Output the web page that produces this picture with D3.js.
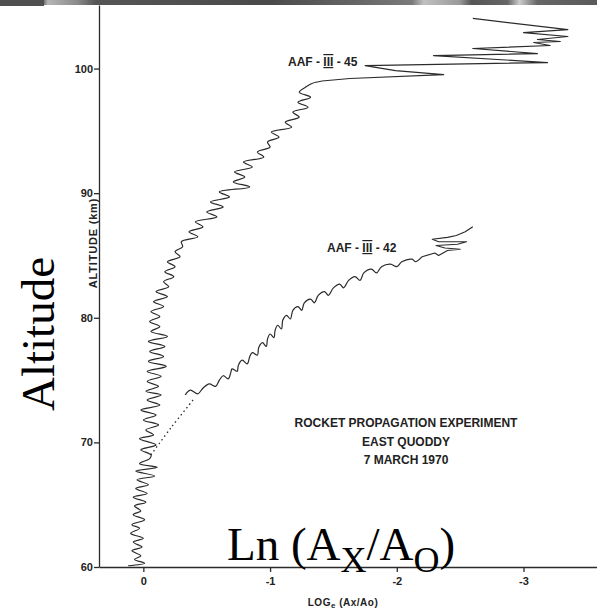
<!DOCTYPE html>
<html>
<head>
<meta charset="utf-8">
<script src="https://cdn.jsdelivr.net/npm/d3@7"></script>
<style>
  body { margin: 0; background: #fff; }
  text { font-family: "Liberation Sans", Arial, sans-serif; }
</style>
</head>
<body>
<div id="chart"></div>
<script>
// altitude ticks (km) and log ratio ticks
var altTicks = [60, 70, 80, 90, 100];
var logTicks = [0, -1, -2, -3];

// AAF-III-45 trace, [altitude km, ln(Ax/Ao)]
var curve45 = [
  [60.1, 0.12], [60.3, -0.01], [60.6, 0.07], [60.9, 0.02], [61.3, 0.09], [61.6, 0.01],
  [62.0, 0.08], [62.3, 0.00], [62.7, 0.10], [63.1, 0.03], [63.4, 0.09], [63.8, -0.01],
  [64.2, 0.08], [64.5, 0.02], [64.9, 0.07], [65.2, -0.02], [65.6, 0.08], [65.9, -0.03],
  [66.3, 0.06], [66.6, -0.04], [67.0, 0.05], [67.3, -0.09], [67.7, 0.06], [68.0, -0.11],
  [68.3, 0.03], [68.7, -0.05], [69.0, -0.06], [69.4, 0.02], [69.8, -0.10], [70.3, 0.03],
  [70.6, -0.08], [71.0, -0.02], [71.4, -0.12], [71.8, 0.00], [72.2, -0.10], [72.6, 0.02],
  [73.0, -0.13], [73.4, -0.03], [73.8, -0.14], [74.1, -0.02], [74.5, -0.12], [74.9, -0.03],
  [75.3, -0.14], [75.7, -0.03], [76.1, -0.18], [76.5, -0.04], [76.9, -0.16], [77.3, -0.05],
  [77.7, -0.17], [78.1, -0.04], [78.5, -0.19], [78.9, -0.06], [79.3, -0.13], [79.7, -0.05],
  [80.1, -0.13], [80.5, -0.06], [80.9, -0.16], [81.3, -0.08], [81.7, -0.19], [82.1, -0.10],
  [82.5, -0.20], [82.9, -0.16], [83.3, -0.24], [83.7, -0.17], [84.1, -0.25], [84.5, -0.19],
  [84.9, -0.29], [85.3, -0.25], [85.7, -0.31], [86.1, -0.30], [86.5, -0.43], [86.9, -0.36],
  [87.3, -0.47], [87.7, -0.41], [88.1, -0.58], [88.5, -0.50], [88.9, -0.63], [89.3, -0.53],
  [89.7, -0.68], [90.1, -0.60], [90.5, -0.84], [90.9, -0.71], [91.3, -0.80], [91.7, -0.72],
  [92.1, -0.86], [92.5, -0.79], [92.9, -0.95], [93.3, -0.90], [93.7, -1.00], [94.1, -0.98],
  [94.5, -1.07], [94.9, -1.01], [95.3, -1.17], [95.7, -1.12], [96.1, -1.23], [96.5, -1.18],
  [96.9, -1.30], [97.3, -1.22], [97.7, -1.32], [98.1, -1.23], [98.5, -1.28], [98.8, -1.33],
  [99.0, -1.41]
];

// spiky top of AAF-III-45 above 99 km, drawn with straight strokes
var spikes45 = [
  [99.0, -1.41], [99.2, -1.63], [99.52, -2.37], [99.84, -1.99], [100.24, -1.75], [100.48, -3.19],
  [101.04, -2.29], [101.2, -3.11], [101.61, -2.60], [101.85, -3.21], [102.09, -3.08], [102.17, -3.29],
  [102.33, -3.11], [102.57, -3.35], [102.89, -3.00], [103.13, -3.35], [104.02, -2.60]
];

// dotted link between the two traces
var link42 = [[69.0, -0.06], [71.2, -0.22], [73.5, -0.40]];

// AAF-III-42 trace
var curve42 = [
  [73.8, -0.33], [74.2, -0.37], [73.9, -0.43], [74.35, -0.47], [74.7, -0.52], [74.5, -0.57],
  [75.0, -0.60], [75.35, -0.63], [75.1, -0.67], [75.6, -0.69], [75.9, -0.70], [75.7, -0.74],
  [76.2, -0.75], [76.6, -0.78], [76.3, -0.82], [76.9, -0.84], [77.2, -0.86], [77.0, -0.90],
  [77.6, -0.91], [78.0, -0.94], [77.7, -0.97], [78.3, -0.98], [78.7, -1.00], [78.4, -1.03],
  [79.0, -1.04], [79.4, -1.06], [79.1, -1.09], [79.8, -1.10], [80.2, -1.13], [79.9, -1.16],
  [80.6, -1.18], [80.9, -1.22], [80.6, -1.25], [81.2, -1.27], [81.5, -1.32], [81.2, -1.35],
  [81.8, -1.38], [82.1, -1.43], [81.8, -1.46], [82.4, -1.50], [82.7, -1.55], [82.4, -1.58],
  [83.0, -1.62], [83.3, -1.67], [83.0, -1.71], [83.6, -1.74], [83.9, -1.80], [83.6, -1.84],
  [84.1, -1.88], [84.3, -1.95], [84.1, -2.00], [84.5, -2.04], [84.7, -2.12], [84.5, -2.15],
  [84.9, -2.20]
];

// sharper end of AAF-III-42
var tail42 = [
  [84.9, -2.20], [85.2, -2.30], [85.0, -2.33], [85.4, -2.40], [85.5, -2.50], [85.6, -2.38],
  [85.8, -2.31], [85.9, -2.48], [86.1, -2.55], [86.1, -2.33], [86.3, -2.28], [86.45, -2.40],
  [86.6, -2.47], [86.9, -2.54], [87.3, -2.60]
];

var width = 597, height = 611;

var svg = d3.select("#chart").append("svg")
    .attr("width", width)
    .attr("height", height);

// dark strip left at the top of the scan
var grad = svg.append("defs").append("linearGradient").attr("id", "scan");
[[0, "#555"], [0.07, "#4d4d4d"], [0.08, "#b5b5b5"], [0.13, "#8a8a8a"], [0.16, "#555"],
 [0.45, "#4a4a4a"], [0.6, "#666"], [0.69, "#7a7a7a"], [0.71, "#c0c0c0"], [0.77, "#999"],
 [0.79, "#555"], [0.85, "#666"], [0.87, "#ccc"], [0.9, "#666"], [1, "#5a5a5a"]]
  .forEach(function(s) {
      grad.append("stop").attr("offset", s[0]).attr("stop-color", s[1]);
  });
svg.append("rect").attr("width", width).attr("height", 5).attr("fill", "url(#scan)");
svg.append("rect").attr("width", 44).attr("height", 6).attr("fill", "#505050");

var x = d3.scaleLinear().domain([0.35, -3.58]).range([99, 597]);
var y = d3.scaleLinear().domain([60, 105.1]).range([567, 5]);

var smooth = d3.line()
    .x(function(d) { return x(d[1]); })
    .y(function(d) { return y(d[0]); })
    .curve(d3.curveCatmullRom.alpha(0.5));

var straight = d3.line()
    .x(function(d) { return x(d[1]); })
    .y(function(d) { return y(d[0]); });

var ink = "#2b2b2b";

// axes
var yAxis = svg.append("g")
    .attr("transform", "translate(" + x.range()[0] + ",0)")
    .call(d3.axisLeft(y).tickValues(altTicks).tickSize(5).tickSizeOuter(0).tickPadding(1));

var xAxis = svg.append("g")
    .attr("transform", "translate(0," + y(60) + ")")
    .call(d3.axisBottom(x).tickValues(logTicks).tickSize(5).tickSizeOuter(0).tickPadding(5)
        .tickFormat(function(d) { return d === 0 ? "0" : "-" + Math.abs(d); }));

[yAxis, xAxis].forEach(function(g) {
    g.selectAll("path, line").attr("stroke", ink).attr("stroke-width", 1.3);
    g.selectAll("text")
        .attr("fill", "#222")
        .style("font-size", "11px")
        .style("font-weight", "bold");
});

// traces
[[curve45, smooth], [spikes45, straight], [curve42, smooth], [tail42, straight]].forEach(function(p) {
    svg.append("path").datum(p[0])
        .attr("d", p[1]).attr("fill", "none")
        .attr("stroke", ink).attr("stroke-width", 1.2)
        .attr("stroke-linejoin", "round");
});

svg.append("path").datum(link42)
    .attr("d", smooth).attr("fill", "none")
    .attr("stroke", ink).attr("stroke-width", 1.3)
    .attr("stroke-dasharray", "1.5,3");

// labels on the traces, roman numeral drawn with bars like the lettering
function traceLabel(px, py, num) {
    var t = svg.append("text").attr("x", px).attr("y", py)
        .style("font-size", "12px").style("font-weight", "bold").attr("fill", "#222");
    t.append("tspan").text("AAF - ");
    t.append("tspan").style("text-decoration", "overline underline").text("III");
    t.append("tspan").text(" - " + num);
}
traceLabel(288, 66, "45");
traceLabel(327, 252, "42");

// experiment caption
var caption = ["ROCKET PROPAGATION EXPERIMENT", "EAST QUODDY", "7 MARCH 1970"];
svg.selectAll(".cap")
    .data(caption)
    .enter()
    .append("text")
    .attr("class", "cap")
    .attr("x", 406)
    .attr("y", function(d, i) { return 427 + i * 18.5; })
    .attr("text-anchor", "middle")
    .style("font-size", "12px")
    .style("font-weight", "bold")
    .attr("fill", "#222")
    .text(function(d) { return d; });

// small printed axis titles
svg.append("text")
    .attr("transform", "translate(97,243) rotate(-90)")
    .attr("text-anchor", "middle")
    .style("font-size", "11px").style("font-weight", "bold").attr("fill", "#222")
    .attr("letter-spacing", 0.8)
    .text("ALTITUDE (km)");

var xt = svg.append("text")
    .attr("x", 343).attr("y", 606)
    .attr("text-anchor", "middle")
    .style("font-size", "10px").style("font-weight", "bold").attr("fill", "#222")
    .attr("letter-spacing", 0.5);
xt.append("tspan").text("LOG");
xt.append("tspan").attr("dy", 2).style("font-size", "8px").text("e");
xt.append("tspan").attr("dy", -2).text(" (Ax/Ao)");

// big overlaid titles
svg.append("text")
    .attr("transform", "translate(54,334) rotate(-90)")
    .attr("text-anchor", "middle")
    .style("font-family", "'Liberation Serif', 'Times New Roman', serif")
    .style("font-size", "47px")
    .attr("fill", "#000")
    .text("Altitude");

var big = svg.append("text")
    .attr("x", 227).attr("y", 560)
    .style("font-family", "'Liberation Serif', 'Times New Roman', serif")
    .style("font-size", "47px")
    .attr("fill", "#000");
big.append("tspan").text("Ln (A");
big.append("tspan").attr("dy", 12).style("font-size", "36px").text("X");
big.append("tspan").attr("dy", -12).text("/A");
big.append("tspan").attr("dy", 12).style("font-size", "36px").text("O");
big.append("tspan").attr("dy", -12).text(")");
</script>
</body>
</html>
